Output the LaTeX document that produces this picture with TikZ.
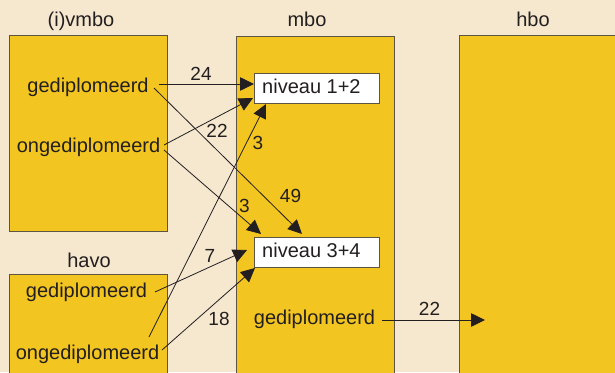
\documentclass[tikz,border=0pt]{standalone}
\usepackage{fontspec}
\setmainfont{Liberation Sans}
\usetikzlibrary{arrows.meta}
\definecolor{bg}{HTML}{F6E8CF}
\definecolor{gold}{HTML}{F2C521}
\definecolor{ink}{HTML}{231F20}
\definecolor{edge}{HTML}{5E5444}
\begin{document}
\begin{tikzpicture}[x=1pt,y=-1pt,
  box/.style={draw=edge, line width=0.9pt, fill=gold, inner sep=0pt, anchor=north west},
  lvl/.style={draw=edge, line width=0.9pt, fill=white, minimum width=125pt, minimum height=30pt, inner sep=0pt, anchor=north west},
  txt/.style={font=\fontsize{20}{22}\selectfont, text=ink, inner sep=0pt, anchor=base},
  num/.style={font=\fontsize{19}{22}\selectfont, text=ink, inner sep=0pt, anchor=base},
  flow/.style={draw=ink, line width=0.8pt, -{Triangle[length=14pt,width=13.5pt]}},
]
\fill[bg] (0,0) rectangle (615,372);
\useasboundingbox (0,0) rectangle (615,372);
\clip (0,0) rectangle (615,372);

% boxes
\node[box, minimum width=158pt, minimum height=196pt] (vmbo) at (9,35) {};
\node[box, minimum width=158pt, minimum height=130pt] (havo) at (9,274) {};
\node[box, minimum width=158pt, minimum height=350pt] (mbo) at (236,36) {};
\node[box, minimum width=170pt, minimum height=350pt] (hbo) at (459,35) {};
\node[lvl] (n12) at (254,73) {};
\node[lvl] (n34) at (254,237) {};

% titles
\node[txt] (tvmbo) at (81,26.5) {(i)vmbo};
\node[txt] (tmbo) at (307,27) {mbo};
\node[txt] (thbo) at (533,27) {hbo};
\node[txt] (thavo) at (89,267) {havo};

% texts
\node[txt, anchor=base west] (n12t) at (262,93) {niveau 1+2};
\node[txt, anchor=base west] (n34t) at (262,257.7) {niveau 3+4};
\node[txt] (vg) at (88,92) {gediplomeerd};
\node[txt] (vo) at (88.5,152.7) {ongediplomeerd};
\node[txt] (hg) at (86.5,297) {gediplomeerd};
\node[txt] (ho) at (87.5,359) {ongediplomeerd};
\node[txt] (mg) at (314.5,324) {gediplomeerd};

% connector ends
\coordinate (vgA) at (159,84);
\coordinate (vgB) at (154,88);
\coordinate (voA) at (164,145);
\coordinate (voB) at (164,150);
\coordinate (hgA) at (155,292);
\coordinate (hoA) at (149,337);
\coordinate (hoB) at (162,350);
\coordinate (mgA) at (382,320);
\coordinate (e24) at (254,84);
\coordinate (e49) at (302,234);
\coordinate (e22) at (253,98);
\coordinate (e3a) at (261,234);
\coordinate (e7) at (247,250);
\coordinate (e3b) at (266,104);
\coordinate (e18) at (255,268);
\coordinate (eh) at (485,320);

\draw[flow] (vgA) -- (e24);
\draw[flow] (vgB) -- (e49);
\draw[flow] (voA) -- (e22);
\draw[flow] (voB) -- (e3a);
\draw[flow] (hgA) -- (e7);
\draw[flow] (hoA) -- (e3b);
\draw[flow] (hoB) -- (e18);
\draw[flow] (mgA) -- (eh);

% numbers
\node[num] (l24) at (201,80) {24};
\node[num] (l22a) at (217,137) {22};
\node[num] (l3b) at (258,149) {3};
\node[num] (l49) at (290.5,202) {49};
\node[num] (l3a) at (244.5,212.7) {3};
\node[num] (l7) at (210,262.7) {7};
\node[num] (l18) at (219,325) {18};
\node[num] (l22b) at (429.5,315) {22};
\end{tikzpicture}
\end{document}
